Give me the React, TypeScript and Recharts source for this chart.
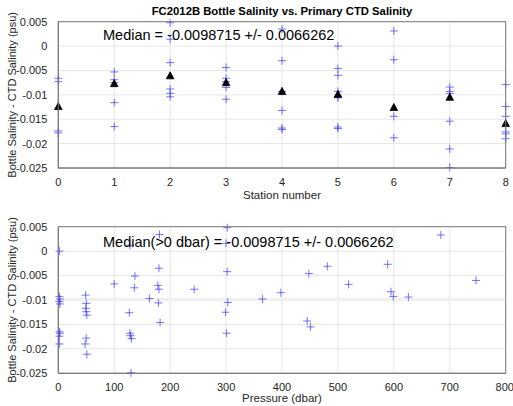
import React from 'react';
import { ScatterChart, Scatter, XAxis, YAxis, CartesianGrid, ReferenceLine, Label } from 'recharts';

// station plot
const bottleStation = [
  0, 0, 0, 0,
  1, 1, 1, 1, 1,
  2, 2, 2, 2, 2, 2,
  3, 3, 3, 3, 3,
  4, 4, 4, 4, 4, 4,
  5, 5, 5, 5, 5, 5, 5, 5,
  6, 6, 6, 6,
  7, 7, 7, 7, 7, 7,
  8, 8, 8, 8, 8, 8,
];
const bottleDiff = [
  -0.0066, -0.0073, -0.0174, -0.0178,
  -0.0053, -0.0069, -0.0075, -0.0116, -0.0165,
  0.0048, 0.0014, -0.0034, -0.0088, -0.0097, -0.0104,
  -0.0044, -0.0066, -0.0073, -0.0085, -0.0109,
  0.0035, -0.003, -0.0093, -0.0132, -0.0168, -0.0171,
  0.0, -0.0046, -0.006, -0.0093, -0.0103, -0.0106, -0.0166, -0.0169,
  0.0031, -0.0028, -0.0144, -0.0188,
  -0.0084, -0.0093, -0.0097, -0.0154, -0.0211, -0.0249,
  -0.0079, -0.0124, -0.0144, -0.0176, -0.018, -0.019,
];
const medianStation = [0, 1, 2, 3, 4, 5, 6, 7, 8];
const medianDiff = [-0.0124, -0.0077, -0.0061, -0.0075, -0.0093, -0.0099, -0.0126, -0.0105, -0.0159];

// pressure plot
const pressure = [
  2, 2, 3, 2, 3, 2, 3, 2, 2,
  49, 50, 49, 50, 51, 50, 48, 51,
  100, 127, 128, 137, 136, 128, 129, 131, 130,
  163, 178, 180, 180, 181, 179, 182,
  243, 299, 301, 302, 303, 302, 300,
  365, 398, 445, 451, 448, 481, 519,
  589, 595, 599, 626, 684, 747,
];
const pressureDiff = [
  0.0, -0.0093, -0.0098, -0.0103, -0.0108, -0.0165, -0.0168, -0.0174, -0.019,
  -0.009, -0.0107, -0.0117, -0.0124, -0.0131, -0.0178, -0.019, -0.0211,
  -0.0067, -0.0126, 0.0012, -0.0051, -0.0075, -0.0168, -0.0173, -0.0179, -0.0249,
  -0.0097, -0.007, -0.0078, -0.0035, 0.0034, -0.0106, -0.0146,
  -0.0078, -0.0125, -0.0168, -0.0042, -0.0105, 0.0048, 0.0016,
  -0.0098, -0.0085, -0.0143, -0.0155, -0.0046, -0.0031, -0.0068,
  -0.0027, -0.0083, -0.0093, -0.0094, 0.0033, -0.006,
];

const yTicks = [-0.025, -0.02, -0.015, -0.01, -0.005, 0, 0.005];
const stationTicks = [0, 1, 2, 3, 4, 5, 6, 7, 8];
const pressureTicks = [0, 100, 200, 300, 400, 500, 600, 700, 800];
const medianValue = -0.0098715;
const medianText = 'Median = -0.0098715 +/- 0.0066262';
const medianText2 = 'Median(>0 dbar) = -0.0098715 +/- 0.0066262';

const font = '"Liberation Sans", Arial, Helvetica, sans-serif';

const stationData = bottleStation.map((s, i) => ({ x: s, y: bottleDiff[i] }));
const medianData = medianStation.map((s, i) => ({ x: s, y: medianDiff[i] }));
const pressureData = pressure.map((p, i) => ({ x: p, y: pressureDiff[i] }));

const Cross = (props: any) => {
  const { cx, cy } = props;
  if (cx == null || cy == null) return null;
  return (
    <path
      d={`M${cx - 4},${cy}H${cx + 4}M${cx},${cy - 4}V${cy + 4}`}
      stroke="#3a3aff"
      strokeOpacity={0.7}
      strokeWidth={1}
      fill="none"
    />
  );
};

const Tri = (props: any) => {
  const { cx, cy } = props;
  if (cx == null || cy == null) return null;
  return <path d={`M${cx},${cy - 4}L${cx + 3.8},${cy + 3}L${cx - 3.8},${cy + 3}Z`} fill="#000" stroke="#000" strokeWidth={0.8} />;
};

const fmt = (v: number) => String(Number(v.toFixed(3)));
const tickStyle = { fontSize: 11, fill: '#262626', fontFamily: font };
const labelStyle = { fontSize: 11.5, fill: '#262626', fontFamily: font };
const yLabelStyle = { fontSize: 11, fill: '#262626', fontFamily: font, textAnchor: 'middle' as const };

const W = 513;
const H = 203;

export default function App() {
  return (
    <div style={{ position: 'absolute', left: 0, top: 0, width: W, height: 406, background: '#fff', fontFamily: font }}>
      <div style={{ position: 'absolute', left: 0, top: 0 }}>
        <ScatterChart width={W} height={H} margin={{ top: 21.7, right: 7.3, left: 0, bottom: 0 }}>
          <CartesianGrid stroke="#e6e6e6" horizontalValues={yTicks} verticalValues={stationTicks} />
          <XAxis
            type="number"
            dataKey="x"
            domain={[0, 8]}
            ticks={stationTicks}
            height={35}
            tickLine={false}
            axisLine={{ stroke: '#7a7a7a' }}
            tick={tickStyle}
            tickMargin={4}
          >
            <Label value="Station number" position="insideBottom" offset={4} style={labelStyle} />
          </XAxis>
          <YAxis
            type="number"
            dataKey="y"
            domain={[-0.025, 0.005]}
            ticks={yTicks}
            width={58.3}
            tickLine={false}
            axisLine={{ stroke: '#7a7a7a' }}
            tick={tickStyle}
            tickFormatter={fmt}
            tickMargin={5}
          >
            <Label value="Bottle Salinity - CTD Salinity (psu)" angle={-90} position="insideLeft" offset={12} style={yLabelStyle} />
          </YAxis>
          <Scatter data={stationData} shape={Cross} isAnimationActive={false} />
          <Scatter data={medianData} shape={Tri} isAnimationActive={false} />
        </ScatterChart>
      </div>
      <div style={{ position: 'absolute', left: 0, top: H }}>
        <ScatterChart width={W} height={H} margin={{ top: 23.7, right: 7.3, left: 0, bottom: 0 }}>
          <CartesianGrid stroke="#e6e6e6" horizontalValues={yTicks} verticalValues={pressureTicks} />
          <ReferenceLine y={medianValue} stroke="#f0f0f0" strokeWidth={2.5} />
          <XAxis
            type="number"
            dataKey="x"
            domain={[0, 800]}
            ticks={pressureTicks}
            height={32.7}
            tickLine={false}
            axisLine={{ stroke: '#7a7a7a' }}
            tick={tickStyle}
            tickMargin={4}
          >
            <Label value="Pressure (dbar)" position="insideBottom" offset={4} style={labelStyle} />
          </XAxis>
          <YAxis
            type="number"
            dataKey="y"
            domain={[-0.025, 0.005]}
            ticks={yTicks}
            width={58.3}
            tickLine={false}
            axisLine={{ stroke: '#7a7a7a' }}
            tick={tickStyle}
            tickFormatter={fmt}
            tickMargin={5}
          >
            <Label value="Bottle Salinity - CTD Salinity (psu)" angle={-90} position="insideLeft" offset={12} style={yLabelStyle} />
          </YAxis>
          <Scatter data={pressureData} shape={Cross} isAnimationActive={false} />
        </ScatterChart>
      </div>
      <svg width={W} height={406} style={{ position: 'absolute', left: 0, top: 0, pointerEvents: 'none' }}>
        <rect x={58.3} y={21.7} width={447.4} height={146.3} fill="none" stroke="#7a7a7a" strokeWidth={1} />
        <rect x={58.3} y={226.7} width={447.4} height={146.6} fill="none" stroke="#7a7a7a" strokeWidth={1} />
      </svg>
      <div style={{ position: 'absolute', left: 0, width: 564, top: 5, textAlign: 'center', fontSize: 11.3, fontWeight: 'bold', color: '#000' }}>
        FC2012B Bottle Salinity vs. Primary CTD Salinity
      </div>
      <div style={{ position: 'absolute', left: 103, top: 26.5, fontSize: 14.5, color: '#000', whiteSpace: 'nowrap' }}>{medianText}</div>
      <div style={{ position: 'absolute', left: 103, top: 233.5, fontSize: 14.5, color: '#000', whiteSpace: 'nowrap' }}>{medianText2}</div>
    </div>
  );
}
